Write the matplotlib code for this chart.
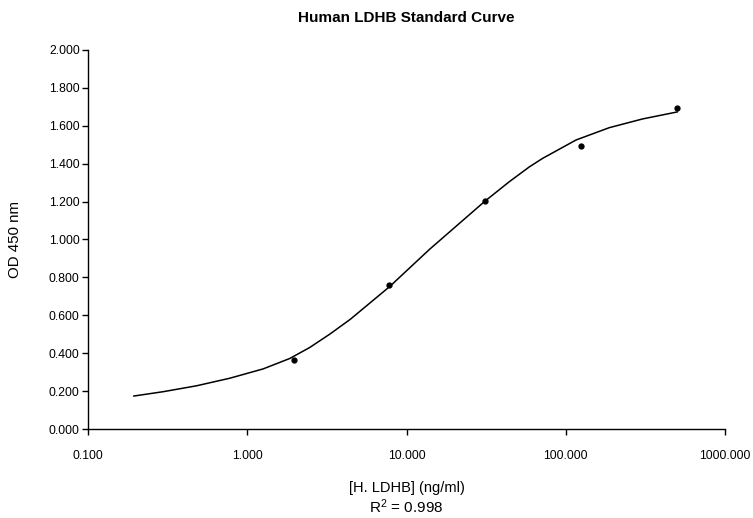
import numpy as np
import matplotlib
matplotlib.use('Agg')
import matplotlib.pyplot as plt
from matplotlib.ticker import FixedLocator, FormatStrFormatter

plt.rcParams['font.family'] = ['Liberation Sans', 'DejaVu Sans']
plt.rcParams['mathtext.fontset'] = 'custom'
plt.rcParams['mathtext.rm'] = 'Liberation Sans'
plt.rcParams['mathtext.it'] = 'Liberation Sans:italic'

# standards (ng/ml) and measured OD
conc = [1.953, 7.8125, 31.25, 125.0, 500.0]
od = [0.363, 0.762, 1.202, 1.495, 1.693]

# fitted curve
curve_x = [0.194, 0.297, 0.480, 0.777, 1.256, 1.847, 2.465, 3.29, 4.436,
           7.82, 13.94, 31.14, 44.2, 59.0, 71.5, 115.9, 187.4, 302.9, 500.0]
curve_y = [0.174, 0.197, 0.228, 0.268, 0.317, 0.372, 0.430, 0.500, 0.579,
           0.751, 0.948, 1.203, 1.305, 1.383, 1.428, 1.525, 1.590, 1.636, 1.673]

xticks = [0.1, 1, 10, 100, 1000]
yticks = [0.0, 0.2, 0.4, 0.6, 0.8, 1.0, 1.2, 1.4, 1.6, 1.8, 2.0]

fig = plt.figure(figsize=(7.53, 5.18), dpi=100)
ax = fig.add_axes([0.1169, 0.1718, 0.846, 0.7317])

ax.plot(curve_x, curve_y, color='black', lw=1.1, solid_joinstyle='round')
ax.plot(conc, od, 'o', color='black', ms=3.5)

ax.set_xscale('log')
ax.set_xlim(0.1, 1000)
ax.set_ylim(0, 2.0)
ax.xaxis.set_major_locator(FixedLocator(xticks))
ax.xaxis.set_minor_locator(FixedLocator([]))
ax.xaxis.set_major_formatter(FormatStrFormatter('%.3f'))
ax.yaxis.set_major_locator(FixedLocator(yticks))
ax.yaxis.set_major_formatter(FormatStrFormatter('%.3f'))

for s in ['top', 'right']:
    ax.spines[s].set_visible(False)
for s in ['left', 'bottom']:
    ax.spines[s].set_linewidth(1.0)
ax.tick_params(axis='both', labelsize=8.8, length=4, width=1.0, pad=2)
ax.tick_params(axis='x', pad=11)

ax.set_title('Human LDHB Standard Curve', fontsize=11, fontweight='bold', pad=20)
ax.set_xlabel('[H. LDHB] (ng/ml)', fontsize=10.5, labelpad=14)
ax.set_ylabel('OD 450 nm', fontsize=10.8)
ax.yaxis.set_label_coords(-0.103, 0.5)
fig.text(0.5398, 0.004, 'R$^2$ = 0.998', ha='center', va='bottom', fontsize=11)

fig.savefig('out.png', dpi=100)
